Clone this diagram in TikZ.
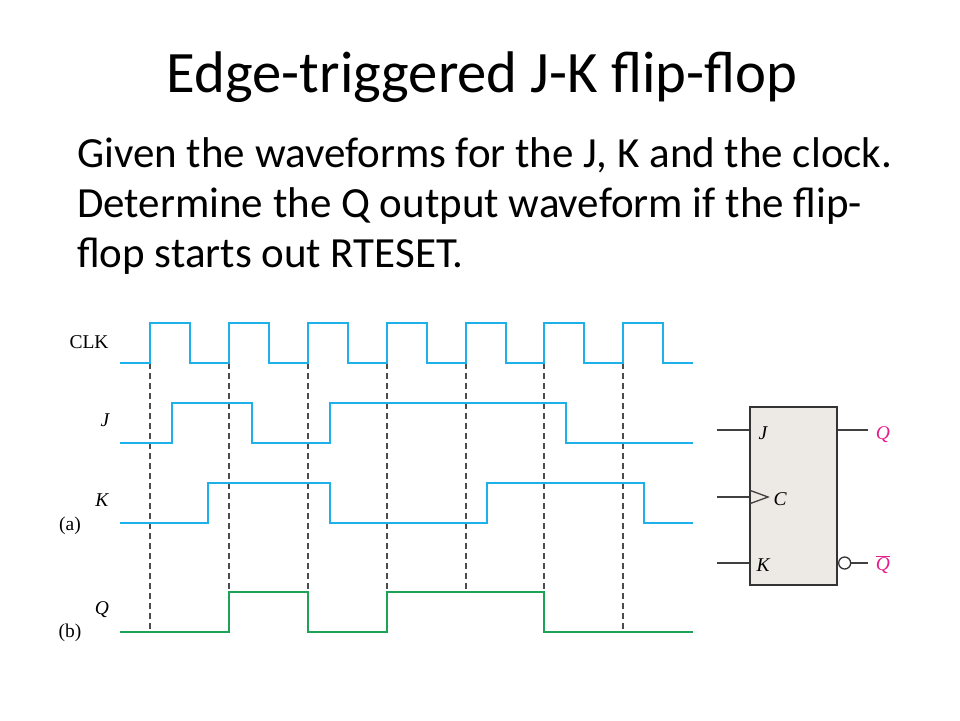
\documentclass[tikz,border=0pt]{standalone}
\usepackage{fontspec}
\setmainfont{Carlito}
\newfontfamily\figfont{Liberation Serif}
\usetikzlibrary{positioning}
\definecolor{wave}{RGB}{30,176,234}
\definecolor{qwave}{RGB}{29,163,86}
\definecolor{pink}{RGB}{228,30,140}
\definecolor{boxfill}{RGB}{237,234,229}
\tikzset{
  wire/.style = {line width=2.8pt, wave, line join=miter},
  qwire/.style = {wire, qwave},
  guide/.style = {dashed, dash pattern=on 6pt off 4pt, line width=1.2pt, black!70},
  siglabel/.style = {font=\figfont\fontsize{19.5}{19.5}\selectfont, inner sep=0pt},
  sigit/.style = {siglabel, font=\figfont\itshape\fontsize{19.5}{19.5}\selectfont},
  ffbox/.style = {draw=black!80, line width=2pt, fill=boxfill, inner sep=0pt},
  pin/.style = {line width=1.3pt, black!75}
}
\tikzset{>=latex}

\begin{document}
\begin{tikzpicture}[x=1pt,y=-1pt]
  \useasboundingbox (0,0) rectangle (960,720);
  % title and text
  \node (title) [anchor=base, inner sep=0pt, font=\fontsize{58.7}{58.7}\selectfont] at (482,92) {Edge-triggered J-K flip-flop};
  \node (task) [anchor=base west, inner sep=0pt, align=left, font=\fontsize{43}{50}\selectfont] at (77,267)
    {Given the waveforms for the J, K and the clock.\\Determine the Q output waveform if the flip-\\flop starts out RTESET.};
  % guides at the clock edges
  \foreach \t/\e in {150/632,229/592,308/592,387/592,466/592,544/592,623/632}
    \draw[guide] (\t,363) -- (\t,\e);
  % signal names
  \node (lclk) [siglabel] at (89,342) {CLK};
  \node (lj) [sigit] at (105,420) {J};
  \node (lk) [sigit] at (102,500) {K};
  \node (la) [siglabel] at (70,526) {(a)};
  \node (lq) [sigit] at (102,610) {Q};
  \node (lb) [siglabel] at (70,633) {(b)};
  % waveforms
  \draw[wire] (120,363) foreach \t in {150,229,308,387,466,544,623} { -- (\t,363) -- (\t,323) -- (\t+40,323) -- (\t+40,363) } -- (693,363);
  \draw[wire] (120,443) -- (172,443) -- (172,403) -- (252,403) -- (252,443) -- (330,443) -- (330,403) -- (566,403) -- (566,443) -- (693,443);
  \draw[wire] (120,523) -- (208,523) -- (208,483) -- (330,483) -- (330,523) -- (487,523) -- (487,483) -- (644,483) -- (644,523) -- (693,523);
  \draw[qwire] (120,632) -- (229,632) -- (229,592) -- (308,592) -- (308,632) -- (387,632) -- (387,592) -- (544,592) -- (544,632) -- (693,632);
  % flip-flop
  \node (ff) [ffbox, minimum width=87pt, minimum height=178pt] at (793.5,496) {};
  \coordinate (jin) at (717,430);
  \coordinate (cin) at (717,497);
  \coordinate (kin) at (717,563);
  \coordinate (qout) at (868,430);
  \coordinate (nqout) at (868,563);
  \draw[pin] (jin) -- (jin -| ff.west);
  \draw[pin] (cin) -- (cin -| ff.west);
  \draw[pin] (kin) -- (kin -| ff.west);
  \draw[pin] (qout -| ff.east) -- (qout);
  \node (bub) [circle, draw=black!80, line width=1.3pt, fill=white, minimum size=12pt, inner sep=0pt, right=0pt of ff.east |- nqout] {};
  \draw[pin] (bub.east) -- (nqout);
  \draw[pin] (ff.west |- 0,490) -- (768,497) -- (ff.west |- 0,504);
  \node (pj) [sigit] at (763,433) {J};
  \node (pc) [sigit] at (780,499) {C};
  \node (pk) [sigit] at (763,565) {K};
  \node (pq) [sigit, pink] at (883,435) {Q};
  \node (pnq) [sigit, pink] at (883,565) {$\overline{\mbox{Q}}$};
\end{tikzpicture}
\end{document}
